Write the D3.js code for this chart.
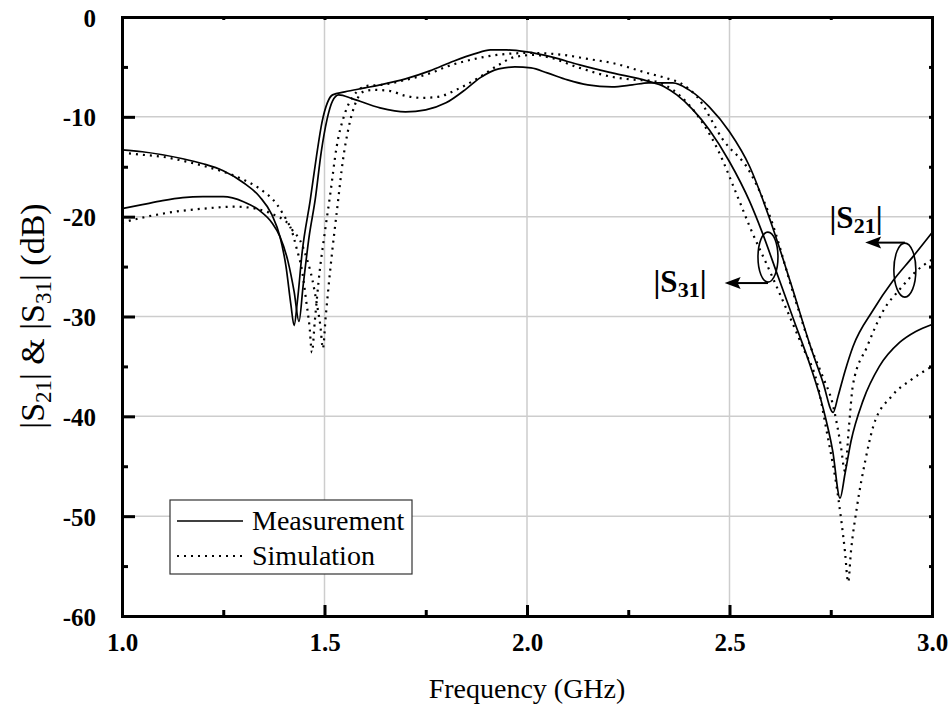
<!DOCTYPE html>
<html>
<head>
<meta charset="utf-8">
<script src="https://cdn.jsdelivr.net/npm/d3@7"></script>
<style>
  html, body { margin: 0; padding: 0; background: #fff; }
  svg { display: block; }
  text { font-family: "Liberation Serif", "Times New Roman", serif; fill: #000; }
</style>
</head>
<body>
<svg id="chart" width="950" height="707"></svg>
<script>
// Frequency in GHz, magnitude in dB
const s31Meas = [
  [1.00,-13.3],[1.05,-13.5],[1.10,-13.8],[1.15,-14.2],[1.20,-14.7],[1.25,-15.4],[1.30,-16.6],
  [1.34,-18.0],[1.37,-19.8],[1.39,-22.0],[1.405,-25.0],[1.417,-28.8],[1.425,-30.9],[1.433,-28.5],
  [1.445,-23.5],[1.465,-18.3],[1.48,-14.0],[1.494,-10.5],[1.507,-8.6],[1.52,-7.8],[1.55,-7.5],
  [1.60,-7.1],[1.637,-6.8],[1.70,-6.2],[1.76,-5.4],[1.82,-4.4],[1.87,-3.7],[1.91,-3.3],[1.95,-3.3],
  [2.00,-3.5],[2.06,-4.0],[2.13,-4.8],[2.21,-5.6],[2.296,-6.4],[2.34,-7.0],[2.37,-7.8],[2.41,-9.3],
  [2.45,-11.3],[2.50,-14.5],[2.55,-18.5],[2.58,-21.5],[2.62,-26.0],[2.66,-30.5],[2.70,-35.0],
  [2.73,-39.0],[2.755,-43.5],[2.773,-48.2],[2.785,-45.8],[2.80,-42.5],[2.83,-38.4],[2.87,-35.0],
  [2.92,-32.6],[2.96,-31.5],[3.00,-30.8]
];
const s21Meas = [
  [1.00,-19.2],[1.05,-18.8],[1.10,-18.4],[1.15,-18.1],[1.20,-18.0],[1.25,-18.0],[1.30,-18.5],
  [1.34,-19.4],[1.37,-20.6],[1.39,-22.0],[1.41,-24.5],[1.425,-27.5],[1.437,-30.5],[1.447,-27.0],
  [1.462,-22.0],[1.477,-18.3],[1.492,-13.5],[1.506,-10.3],[1.52,-8.4],[1.535,-7.8],[1.57,-8.2],
  [1.637,-9.1],[1.70,-9.5],[1.75,-9.3],[1.80,-8.6],[1.85,-7.2],[1.884,-6.1],[1.93,-5.2],[1.97,-5.0],
  [2.01,-5.1],[2.05,-5.6],[2.10,-6.3],[2.15,-6.8],[2.21,-7.0],[2.26,-6.8],[2.30,-6.6],[2.36,-6.6],
  [2.40,-7.3],[2.45,-9.0],[2.50,-11.5],[2.55,-15.0],[2.60,-20.3],[2.65,-26.5],[2.70,-33.0],
  [2.73,-36.5],[2.756,-39.6],[2.768,-38.0],[2.785,-35.5],[2.805,-33.0],[2.854,-29.4],[2.904,-26.4],
  [2.953,-24.0],[3.00,-21.6]
];
const s31Sim = [
  [1.00,-13.6],[1.05,-13.8],[1.10,-14.0],[1.15,-14.4],[1.20,-14.9],[1.25,-15.5],[1.30,-16.3],
  [1.34,-17.2],[1.383,-18.8],[1.40,-19.9],[1.42,-21.3],[1.44,-22.4],[1.457,-24.3],[1.47,-26.3],
  [1.48,-28.5],[1.49,-31.0],[1.496,-33.2],[1.503,-30.0],[1.515,-25.0],[1.533,-18.6],[1.545,-14.5],
  [1.56,-11.0],[1.575,-8.8],[1.595,-7.5],[1.62,-7.3],[1.66,-7.4],[1.70,-7.9],[1.74,-8.1],[1.78,-8.0],
  [1.83,-7.2],[1.884,-6.0],[1.93,-4.8],[1.97,-4.0],[2.02,-3.8],[2.05,-4.0],[2.13,-5.1],[2.21,-6.0],
  [2.27,-6.3],[2.31,-6.4],[2.36,-7.3],[2.40,-8.8],[2.42,-9.8],[2.47,-13.2],[2.52,-18.0],[2.55,-21.0],
  [2.60,-25.5],[2.64,-29.2],[2.68,-33.0],[2.716,-36.6],[2.74,-41.5],[2.768,-48.0],[2.785,-53.5],
  [2.793,-56.6],[2.80,-53.5],[2.815,-49.0],[2.835,-44.5],[2.855,-41.0],[2.90,-38.0],[2.95,-36.3],
  [3.00,-35.0]
];
const s21Sim = [
  [1.00,-20.6],[1.05,-20.1],[1.10,-19.7],[1.15,-19.4],[1.20,-19.2],[1.28,-19.0],[1.33,-19.2],
  [1.357,-19.5],[1.38,-19.9],[1.398,-20.3],[1.415,-21.0],[1.432,-23.3],[1.445,-25.5],[1.455,-28.5],
  [1.463,-31.0],[1.469,-33.6],[1.476,-30.5],[1.488,-25.5],[1.50,-21.8],[1.514,-17.8],[1.53,-13.0],
  [1.55,-9.7],[1.57,-8.0],[1.605,-6.9],[1.64,-6.8],[1.70,-6.3],[1.77,-5.5],[1.80,-5.0],[1.86,-4.3],
  [1.926,-3.8],[2.007,-3.6],[2.09,-3.8],[2.15,-4.2],[2.21,-4.6],[2.296,-5.6],[2.35,-6.2],[2.378,-6.6],
  [2.42,-8.0],[2.484,-12.3],[2.55,-15.5],[2.60,-20.0],[2.66,-28.0],[2.70,-33.0],[2.73,-36.0],
  [2.755,-38.8],[2.775,-43.0],[2.785,-45.5],[2.795,-41.0],[2.805,-36.8],[2.84,-33.0],[2.88,-29.4],
  [2.92,-27.3],[2.96,-25.5],[3.00,-24.3]
];

const xMajorTicks = [1.0, 1.5, 2.0, 2.5, 3.0];
const xMinorTicks = [1.25, 1.75, 2.25, 2.75];
const yMajorTicks = [0, -10, -20, -30, -40, -50, -60];
const yMinorTicks = [-5, -15, -25, -35, -45, -55];
const legendItems = [
  { label: "Measurement", dash: null },
  { label: "Simulation", dash: "2,5" }
];

const FONT = "Liberation Serif, Times New Roman, serif";
const svg = d3.select("#chart");
const x = d3.scaleLinear().domain([1, 3]).range([122, 932]);
const y = d3.scaleLinear().domain([-60, 0]).range([616, 17]);

// grid
const grid = svg.append("g").attr("stroke", "#cdcdcd").attr("stroke-width", 1.5);
grid.selectAll(".gx").data(xMajorTicks.slice(1, -1)).join("line")
  .attr("x1", d => x(d)).attr("x2", d => x(d)).attr("y1", y(0)).attr("y2", y(-60));
grid.selectAll(".gy").data(yMajorTicks.slice(1, -1)).join("line")
  .attr("x1", x(1)).attr("x2", x(3)).attr("y1", d => y(d)).attr("y2", d => y(d));

// curves
const line = d3.line().x(d => x(d[0])).y(d => y(d[1])).curve(d3.curveMonotoneX);
const curves = [
  { data: s31Meas, dash: null }, { data: s21Meas, dash: null },
  { data: s31Sim, dash: "2,5" }, { data: s21Sim, dash: "2,5" }
];
svg.append("g").selectAll("path").data(curves).join("path")
  .attr("d", d => line(d.data))
  .attr("fill", "none").attr("stroke", "#000")
  .attr("stroke-width", d => d.dash ? 2.2 : 1.7)
  .attr("stroke-dasharray", d => d.dash);

// axes
const fmtX = d3.format(".1f");
const fmtY = d => String(d); // plain hyphen-minus
const bottom = svg.append("g").attr("transform", `translate(0,${y(-60)})`)
  .call(d3.axisBottom(x).tickValues(xMajorTicks).tickSize(-11).tickPadding(20).tickFormat(fmtX));
svg.append("g").attr("transform", `translate(0,${y(-60)})`)
  .call(d3.axisBottom(x).tickValues(xMinorTicks).tickSize(-6).tickFormat(""));
const left = svg.append("g").attr("transform", `translate(${x(1)},0)`)
  .call(d3.axisLeft(y).tickValues(yMajorTicks).tickSize(-13).tickPadding(26).tickFormat(fmtY));
svg.append("g").attr("transform", `translate(${x(1)},0)`)
  .call(d3.axisLeft(y).tickValues(yMinorTicks).tickSize(-6).tickFormat(""));
svg.append("g").attr("transform", `translate(${x(3)},0)`)
  .call(d3.axisRight(y).tickValues(yMajorTicks.concat(yMinorTicks)).tickSize(-3).tickFormat(""));
svg.append("g").attr("transform", `translate(0,${y(0)})`)
  .call(d3.axisTop(x).tickValues(xMajorTicks.concat(xMinorTicks)).tickSize(-3).tickFormat(""));

svg.selectAll(".domain").attr("stroke", "#000").attr("stroke-width", 3);
svg.selectAll(".tick line").attr("stroke", "#000").attr("stroke-width", 3);
svg.selectAll("g[font-family]").attr("font-family", FONT);
svg.selectAll(".tick text").attr("font-weight", "bold").attr("font-size", 25).attr("fill", "#000");
left.selectAll(".tick text").attr("dy", "0.36em");
bottom.selectAll(".tick text").attr("dy", "0.6em");

// axis titles
svg.append("text").attr("x", 527).attr("y", 698).attr("text-anchor", "middle")
  .attr("font-size", 28).text("Frequency (GHz)");

const yt = svg.append("text").attr("transform", "translate(44,316) rotate(-90)")
  .attr("text-anchor", "middle").attr("font-size", 34);
yt.append("tspan").text("|S");
yt.append("tspan").attr("font-size", 23).attr("dy", 7).text("21");
yt.append("tspan").attr("dy", -7).text("| & |S");
yt.append("tspan").attr("font-size", 23).attr("dy", 7).text("31");
yt.append("tspan").attr("dy", -7).text("| (dB)");

// legend
const lg = svg.append("g");
lg.append("rect").attr("x", 170).attr("y", 500).attr("width", 242).attr("height", 74)
  .attr("fill", "#fff").attr("stroke", "#333").attr("stroke-width", 1.2);
legendItems.forEach((item, i) => {
  const yy = 521 + i * 35;
  lg.append("line").attr("x1", 177).attr("x2", 243).attr("y1", yy).attr("y2", yy)
    .attr("stroke", "#000").attr("stroke-width", item.dash ? 2 : 1.7)
    .attr("stroke-dasharray", item.dash);
  lg.append("text").attr("x", 252).attr("y", yy + 9).attr("font-size", 28).text(item.label);
});

// callouts for the two responses
function callout(cf, cdb, rx, ry, arrowDb, arrowToF, sub, lx, ly) {
  const cx = x(cf), cy = y(cdb);
  svg.append("ellipse").attr("cx", cx).attr("cy", cy).attr("rx", rx).attr("ry", ry)
    .attr("fill", "none").attr("stroke", "#000").attr("stroke-width", 1.6);
  const ay = y(arrowDb), ax = x(arrowToF);
  svg.append("line").attr("x1", cx).attr("x2", ax + 12).attr("y1", ay).attr("y2", ay)
    .attr("stroke", "#000").attr("stroke-width", 2);
  svg.append("path").attr("d", `M${ax},${ay} L${ax + 16},${ay - 6} L${ax + 13},${ay} L${ax + 16},${ay + 6} Z`)
    .attr("fill", "#000");
  const t = svg.append("text").attr("x", lx).attr("y", ly).attr("text-anchor", "middle")
    .attr("font-weight", "bold").attr("font-size", 31);
  t.append("tspan").text("|S");
  t.append("tspan").attr("font-size", 22).attr("dy", 5).text(sub);
  t.append("tspan").attr("dy", -5).text("|");
}
callout(2.595, -24.05, 10, 25, -26.65, 2.488, "31", 680, 292);
callout(2.933, -25.35, 11, 27, -22.6, 2.835, "21", 856, 228);
</script>
</body>
</html>
